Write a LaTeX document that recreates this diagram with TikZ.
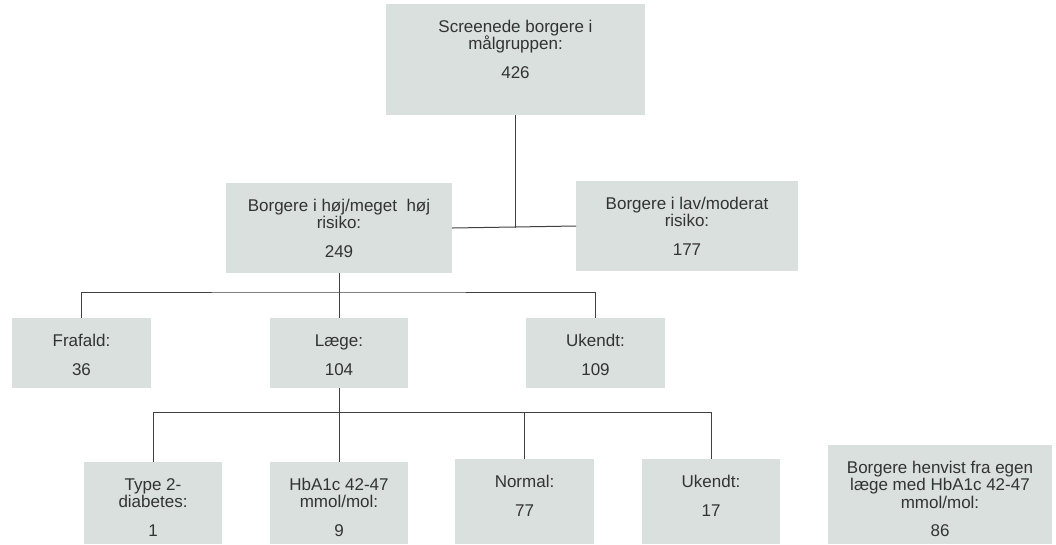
\documentclass[tikz,border=0pt]{standalone}
\usepackage{fontspec}
\setmainfont{Liberation Sans}
% one unit of the layout grid
\newlength\pxu
\setlength\pxu{0.75pt}
% fixed-size box with its text hung from the top
\newcommand\boxtext[3]{\parbox[c][#2\pxu][t]{#1\pxu}{\centering\rule{0pt}{28.5\pxu}#3}}
\newcommand\numline{\\[8.5pt]}
\definecolor{boxfill}{HTML}{D9E0DE}
\definecolor{linecol}{HTML}{404040}
\definecolor{textcol}{HTML}{333333}
\tikzset{
  box/.style={fill=boxfill, inner sep=0pt, outer sep=0pt, text=textcol,
              font=\fontsize{12.75}{13}\selectfont},
  link/.style={draw=linecol, line width=0.75pt}
}
\begin{document}
\begin{tikzpicture}[x=0.75pt, y=-0.75pt]
\useasboundingbox (0,0) rectangle (1056,544);

% top level
\node[box] (top) at (515.5,59.5) {\boxtext{259}{111}{Screenede borgere i\\målgruppen:\numline 426}};

% risk groups
\node[box] (high) at (339,228) {\boxtext{226}{90}{Borgere i høj/meget\ \ høj\\risiko:\numline 249}};
\node[box] (low) at (687,226) {\boxtext{222}{90}{Borgere i lav/moderat\\risiko:\numline 177}};

% follow-up of the high-risk group
\node[box] (fra) at (81.5,353) {\boxtext{139}{70}{Frafald:\numline 36}};
\node[box] (laege) at (339,353) {\boxtext{138}{70}{Læge:\numline 104}};
\node[box] (uk1) at (595.5,353) {\boxtext{139}{70}{Ukendt:\numline 109}};

% outcomes at the doctor
\node[box] (t2) at (153,503) {\boxtext{138}{82}{Type 2-\\diabetes:\numline 1}};
\node[box] (hba) at (339,503) {\boxtext{138}{82}{HbA1c 42-47\\mmol/mol:\numline 9}};
\node[box] (norm) at (524.5,501.5) {\boxtext{139}{85}{Normal:\numline 77}};
\node[box] (uk2) at (711,501.5) {\boxtext{138}{85}{Ukendt:\numline 17}};

% separate referral group
\node[box] (henv) at (940,494.5) {\boxtext{224}{99}{Borgere henvist fra egen\\læge med HbA1c 42-47\\mmol/mol:\numline 86}};

% connectors
\coordinate (bus1) at (339,292);
\coordinate (bus2) at (339,412);

\draw[link] (high.east) -- (low.west);
\draw[link] (top.south) -- (top.south |- high.east);

\draw[link] (high.south) -- (laege.north);
\draw[link] (fra.north) |- (bus1) -| (uk1.north);

\draw[link] (laege.south) -- (hba.north);
\draw[link] (t2.north) |- (bus2) -| (uk2.north);
\draw[link] (norm.north) -- (norm.north |- bus2);
\end{tikzpicture}
\end{document}
